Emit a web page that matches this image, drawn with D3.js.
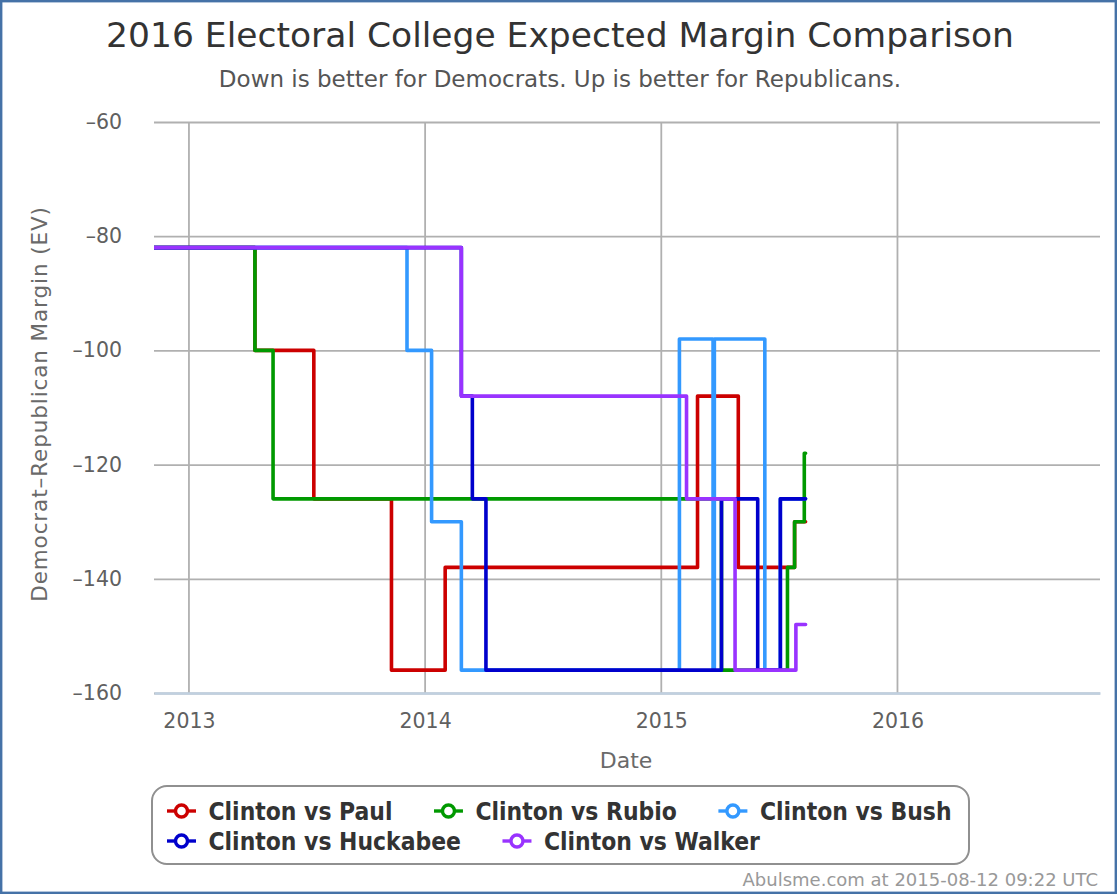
<!DOCTYPE html>
<html>
<head>
<meta charset="utf-8">
<script src="https://cdn.jsdelivr.net/npm/d3@7"></script>
<style>
  body { margin: 0; background: #fff; }
  svg text { font-family: "DejaVu Sans", sans-serif; }
  svg text.legend-label { font-family: "DejaVu Sans Condensed", "DejaVu Sans", sans-serif; font-stretch: condensed; }
</style>
</head>
<body>
<div id="chart"></div>
<script>
// Step series (date of change, new margin in EV)
const paulDates = ['2012-11-06', '2013-04-13', '2013-07-13', '2013-11-10', '2014-02-01', '2015-02-26', '2015-04-30', '2015-07-26', '2015-08-12'];
const paulValues = [-82, -100, -126, -156, -138, -108, -138, -130, -130];

const rubioDates = ['2012-11-06', '2013-04-13', '2013-05-11', '2015-04-04', '2015-07-15', '2015-07-26', '2015-08-10', '2015-08-12'];
const rubioValues = [-82, -100, -126, -156, -138, -130, -118, -118];

const bushDates = ['2012-11-06', '2013-12-04', '2014-01-11', '2014-02-26', '2015-01-29', '2015-03-22', '2015-03-24', '2015-06-10', '2015-07-04', '2015-08-12'];
const bushValues = [-82, -100, -130, -156, -98, -156, -98, -156, -126, -126];

const huckabeeDates = ['2012-11-06', '2014-02-26', '2014-03-15', '2014-04-05', '2015-04-04', '2015-05-30', '2015-07-04', '2015-08-12'];
const huckabeeValues = [-82, -108, -126, -156, -126, -156, -126, -126];

const walkerDates = ['2012-11-06', '2014-02-26', '2015-02-09', '2015-04-25', '2015-07-28', '2015-08-12'];
const walkerValues = [-82, -108, -126, -156, -148, -148];

const seriesNames = ['Clinton vs Paul', 'Clinton vs Rubio', 'Clinton vs Bush', 'Clinton vs Huckabee', 'Clinton vs Walker'];
const seriesColors = ['#cc0000', '#009900', '#3399ff', '#0000cc', '#9933ff'];

const yTicks = [-60, -80, -100, -120, -140, -160];
const xTickYears = ['2013', '2014', '2015', '2016'];
const xDomain = ['2012-11-08', '2016-11-09'];

const W = 1120, H = 896;
const plot = { left: 154, right: 1100, top: 122, bottom: 693 };

const parse = d3.timeParse('%Y-%m-%d');
const series = [
  [paulDates, paulValues], [rubioDates, rubioValues], [bushDates, bushValues],
  [huckabeeDates, huckabeeValues], [walkerDates, walkerValues]
].map(([ds, vs], i) => ({
  name: seriesNames[i],
  color: seriesColors[i],
  values: ds.map((d, j) => ({ date: parse(d), v: vs[j] }))
}));

const svg = d3.select('#chart').append('svg')
  .attr('width', W).attr('height', H);

svg.append('rect').attr('x', 1.2).attr('y', 1.2).attr('width', 1114.6).attr('height', 891.6)
  .attr('fill', '#fff').attr('stroke', '#4572a7').attr('stroke-width', 2.4);

const x = d3.scaleTime().domain(xDomain.map(parse)).range([plot.left, plot.right]);
const y = d3.scaleLinear().domain([-160, -60]).range([plot.bottom, plot.top]);

// Title
svg.append('text').attr('x', 560).attr('y', 47).attr('text-anchor', 'middle')
  .style('font-size', '34.5px').style('fill', '#333').text('2016 Electoral College Expected Margin Comparison');
svg.append('text').attr('x', 560).attr('y', 87).attr('text-anchor', 'middle')
  .style('font-size', '23px').style('fill', '#555').text('Down is better for Democrats. Up is better for Republicans.');

// Grid
const yearDates = xTickYears.map(yr => parse(yr + '-01-01'));
svg.append('g')
  .selectAll('line').data(yearDates).enter().append('line')
  .attr('x1', d => x(d)).attr('x2', d => x(d))
  .attr('y1', plot.top).attr('y2', plot.bottom)
  .attr('stroke', '#b0b0b0').attr('stroke-width', 1.8);

svg.append('g').attr('transform', `translate(${plot.left},0)`)
  .call(d3.axisLeft(y).tickValues(yTicks).tickSize(-(plot.right - plot.left)).tickFormat(''))
  .call(g => g.select('.domain').remove())
  .call(g => g.selectAll('line').attr('stroke', '#b0b0b0').attr('stroke-width', 1.8));

// Y labels
svg.append('g').attr('transform', `translate(${plot.left},0)`)
  .call(d3.axisLeft(y).tickValues(yTicks).tickSize(0).tickPadding(32).tickFormat(d => '\u2013' + Math.abs(d)))
  .call(g => g.select('.domain').remove())
  .call(g => g.selectAll('text').style('font-size', '20.5px').style('fill', '#606060')
    .style('font-family', '"DejaVu Sans", sans-serif'));

// X axis
svg.append('g').attr('transform', `translate(0,${plot.bottom})`)
  .call(d3.axisBottom(x).tickValues(yearDates).tickSize(0).tickPadding(20).tickFormat(d3.timeFormat('%Y')))
  .call(g => g.select('.domain').attr('stroke', '#c0d0e0').attr('stroke-width', 2.4))
  .call(g => g.selectAll('text').style('font-size', '20.5px').style('fill', '#606060')
    .style('font-family', '"DejaVu Sans", sans-serif'));

svg.append('text').attr('x', 626).attr('y', 768).attr('text-anchor', 'middle')
  .style('font-size', '22px').style('fill', '#6a6a6a').text('Date');
svg.append('text').attr('transform', `translate(47,404) rotate(-90)`)
  .attr('text-anchor', 'middle').style('letter-spacing', '0.9px')
  .style('font-size', '21.5px').style('fill', '#6a6a6a').text('Democrat\u2013Republican Margin (EV)');

// Lines
svg.append('clipPath').attr('id', 'clip').append('rect')
  .attr('x', plot.left).attr('y', plot.top - 10).attr('width', plot.right - plot.left).attr('height', plot.bottom - plot.top + 20);

const line = d3.line().x(d => x(d.date)).y(d => y(d.v)).curve(d3.curveStepAfter);
svg.append('g').attr('clip-path', 'url(#clip)')
  .selectAll('path').data(series).enter().append('path')
  .attr('d', d => line(d.values))
  .attr('fill', 'none').attr('stroke', d => d.color).attr('stroke-width', 3.6)
  .attr('stroke-linejoin', 'round').attr('stroke-linecap', 'round');

// Legend
const legend = svg.append('g');
legend.append('rect').attr('x', 152).attr('y', 786).attr('width', 817).attr('height', 78)
  .attr('rx', 15).attr('fill', '#fff').attr('stroke', '#909090').attr('stroke-width', 2);

const rows = [[0, 1, 2], [3, 4]];
rows.forEach((row, r) => {
  let lx = 167;
  const ly = 811 + r * 30;
  row.forEach(i => {
    const s = series[i];
    const item = legend.append('g');
    item.append('line').attr('x1', lx).attr('x2', lx + 29).attr('y1', ly).attr('y2', ly)
      .attr('stroke', s.color).attr('stroke-width', 3.4);
    item.append('circle').attr('cx', lx + 14.5).attr('cy', ly).attr('r', 6)
      .attr('fill', '#fff').attr('stroke', s.color).attr('stroke-width', 3.4);
    const t = item.append('text').attr('class', 'legend-label').attr('x', lx + 41.5).attr('y', ly + 9)
      .style('font-size', '24.4px').style('font-weight', 'bold').style('fill', '#333').text(s.name);
    lx = lx + 41.5 + t.node().getComputedTextLength() + 41.5;
  });
});

svg.append('text').attr('x', 1098).attr('y', 886).attr('text-anchor', 'end')
  .style('font-size', '18px').style('fill', '#999').text('Abulsme.com at 2015-08-12 09:22 UTC');
</script>
</body>
</html>
